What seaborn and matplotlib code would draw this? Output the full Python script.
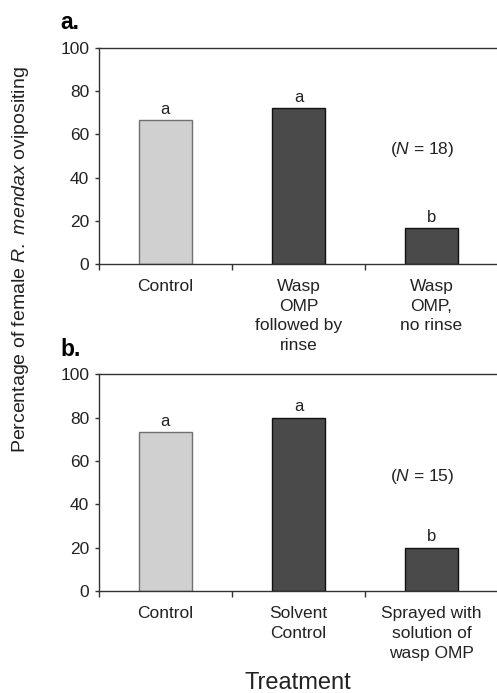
import numpy as np
import pandas as pd
import matplotlib
matplotlib.use("Agg")
import matplotlib.pyplot as plt
import seaborn as sns

sns.set_theme(style="white")
plt.rcParams['font.family'] = ['Liberation Sans', 'DejaVu Sans']
plt.rcParams['mathtext.fontset'] = 'custom'
plt.rcParams['mathtext.rm'] = 'Liberation Sans'
plt.rcParams['mathtext.it'] = 'Liberation Sans:italic'

# data panel a
cats_a = ['Control', 'Wasp\nOMP\nfollowed by\nrinse', 'Wasp\nOMP,\nno rinse']
vals_a = [66.7, 72.2, 16.7]
letters_a = ['a', 'a', 'b']
n_a = 18

# data panel b
cats_b = ['Control', 'Solvent\nControl', 'Sprayed with\nsolution of\nwasp OMP']
vals_b = [73.3, 80.0, 20.0]
letters_b = ['a', 'a', 'b']
n_b = 15

bar_colors = ['#d0d0d0', '#4a4a4a', '#4a4a4a']
edge_colors = ['#707070', '#111111', '#111111']

fig = plt.figure(figsize=(4.97, 6.93), dpi=100)
ax_a = fig.add_axes([0.199, 0.619, 0.803, 0.312])
ax_b = fig.add_axes([0.199, 0.147, 0.803, 0.313])


def draw_panel(ax, cats, vals, letters, n, tag):
    df = pd.DataFrame({'cat': cats, 'val': vals})
    sns.barplot(data=df, x='cat', y='val', hue='cat', palette=bar_colors,
                legend=False, width=0.4, ax=ax, saturation=1)
    for patch, ec in zip(ax.patches, edge_colors):
        patch.set_edgecolor(ec)
        patch.set_linewidth(1.0)
    for i, (v, l) in enumerate(zip(vals, letters)):
        ax.text(i, v + 1.5, l, ha='center', va='bottom', fontsize=12, color='#222222')
    ax.text(1.93, 53, rf'($\mathit{{N}}$ = {n})', ha='center', va='center',
            fontsize=12.5, color='#222222')
    ax.set_ylim(0, 100)
    ax.set_xlim(-0.5, 2.5)
    ax.set_yticks([0, 20, 40, 60, 80, 100])
    ax.set_xticks(range(len(cats)))
    ax.set_xticklabels(cats, fontsize=12.5, color='#222222', linespacing=1.38)
    ax.set_xticks([-0.5, 0.5, 1.5, 2.5], minor=True)
    ax.tick_params(axis='x', which='major', length=0, pad=11)
    ax.tick_params(axis='x', which='minor', length=4, width=1, direction='out', color='#333333', bottom=True)
    ax.tick_params(axis='y', length=3, width=1, direction='out', color='#333333', left=True,
                   labelsize=12.5, labelcolor='#222222', pad=4)
    ax.set_xlabel('')
    ax.set_ylabel('')
    for s in ['left', 'bottom', 'top']:
        ax.spines[s].set_visible(True)
        ax.spines[s].set_color('#333333')
        ax.spines[s].set_linewidth(1.0)
    ax.spines['right'].set_visible(False)
    fig.text(0.121, ax.get_position().y1 + 0.036, tag, fontsize=16.5, fontweight='bold',
             ha='left', va='center', color='black')


draw_panel(ax_a, cats_a, vals_a, letters_a, n_a, 'a.')
draw_panel(ax_b, cats_b, vals_b, letters_b, n_b, 'b.')

fig.text(0.042, 0.625, r'Percentage of female $\mathit{R.\ mendax}$ ovipositing',
         rotation=90, ha='center', va='center', fontsize=14, color='#222222')
fig.text(0.6, 0.015, 'Treatment', ha='center', va='center', fontsize=17, color='#222222')

fig.savefig('out.png', dpi=100)
